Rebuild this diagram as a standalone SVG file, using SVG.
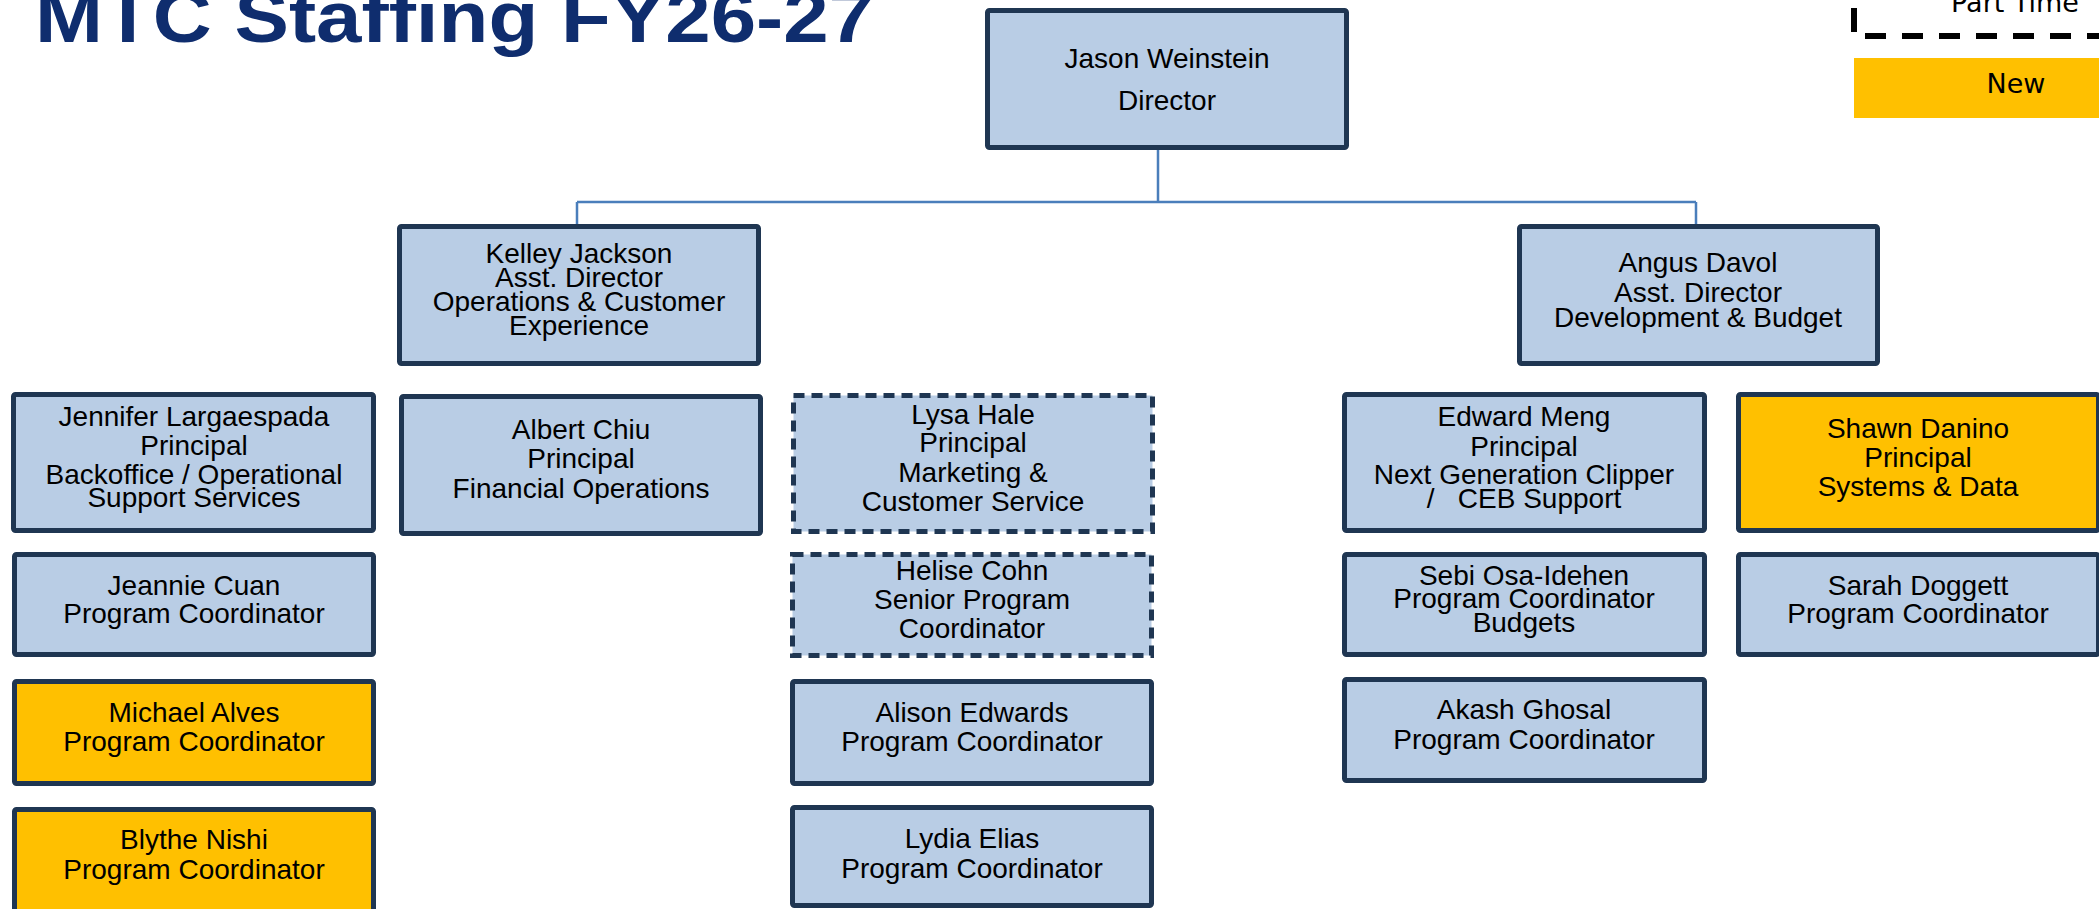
<svg xmlns="http://www.w3.org/2000/svg" width="2099" height="909" viewBox="0 0 2099 909">
<style>
.box{fill:#B9CDE5;stroke:#1F3652;stroke-width:5}
.new{fill:#FFC000;stroke:#1F3652;stroke-width:5}
.pt{fill:#B9CDE5;stroke:#1F3652;stroke-width:5;stroke-dasharray:11 7}
.t{font-family:"Liberation Sans",Arial,sans-serif;font-size:28px;fill:#000;text-anchor:middle;white-space:pre}
.lg{font-family:"DejaVu Sans",sans-serif;font-size:27px;fill:#000;text-anchor:middle}
.conn{fill:none;stroke:#4A7EBB;stroke-width:2.5}
</style>
<rect x="0" y="0" width="2099" height="909" fill="#FFFFFF"/>
<g id="title">
<text x="35" y="42" font-family="Liberation Sans,Arial,sans-serif" font-weight="bold" font-size="72" fill="#0F2D6E" textLength="839" lengthAdjust="spacingAndGlyphs">MTC Staffing FY26-27</text>
</g>
<g id="legend">
<line x1="1854" y1="8" x2="1854" y2="32" stroke="#000" stroke-width="6"/>
<line x1="1865" y1="36" x2="2099" y2="36" stroke="#000" stroke-width="6" stroke-dasharray="21 16"/>
<text class="lg" x="2015" y="12">Part Time</text>
<rect x="1854" y="58" width="260" height="60" fill="#FFC000"/>
<text class="lg" x="2016" y="93">New</text>
</g>
<g id="connectors">
<path class="conn" d="M1158,150 V202 M577,202 H1696 M577,202 V224 M1696,202 V224"/>
</g>
<g id="director">
<rect class="box" x="987.5" y="10.5" width="359" height="137" rx="2"/>
<text class="t" x="1167" y="68">Jason Weinstein</text>
<text class="t" x="1167" y="110">Director</text>
</g>
<g id="kelley">
<rect class="box" x="399.5" y="226.5" width="359" height="137" rx="2"/>
<text class="t" x="579" y="263">Kelley Jackson</text>
<text class="t" x="579" y="287">Asst. Director</text>
<text class="t" x="579" y="311">Operations &amp; Customer</text>
<text class="t" x="579" y="335">Experience</text>
</g>
<g id="angus">
<rect class="box" x="1519.5" y="226.5" width="358" height="137" rx="2"/>
<text class="t" x="1698" y="272">Angus Davol</text>
<text class="t" x="1698" y="302">Asst. Director</text>
<text class="t" x="1698" y="327">Development &amp; Budget</text>
</g>
<g id="jennifer">
<rect class="box" x="13.5" y="394.5" width="360" height="136" rx="2"/>
<text class="t" x="194" y="426">Jennifer Largaespada</text>
<text class="t" x="194" y="455">Principal</text>
<text class="t" x="194" y="484">Backoffice / Operational</text>
<text class="t" x="194" y="507">Support Services</text>
</g>
<g id="albert">
<rect class="box" x="401.5" y="396.5" width="359" height="137" rx="2"/>
<text class="t" x="581" y="439">Albert Chiu</text>
<text class="t" x="581" y="468">Principal</text>
<text class="t" x="581" y="498">Financial Operations</text>
</g>
<g id="lysa">
<rect class="pt" x="793.5" y="395.5" width="359" height="136"/>
<text class="t" x="973" y="424">Lysa Hale</text>
<text class="t" x="973" y="452">Principal</text>
<text class="t" x="973" y="482">Marketing &amp;</text>
<text class="t" x="973" y="511">Customer Service</text>
</g>
<g id="edward">
<rect class="box" x="1344.5" y="394.5" width="360" height="136" rx="2"/>
<text class="t" x="1524" y="426">Edward Meng</text>
<text class="t" x="1524" y="456">Principal</text>
<text class="t" x="1524" y="484">Next Generation Clipper</text>
<text class="t" x="1524" y="508">/   CEB Support</text>
</g>
<g id="shawn">
<rect class="new" x="1738.5" y="394.5" width="360" height="136" rx="2"/>
<text class="t" x="1918" y="438">Shawn Danino</text>
<text class="t" x="1918" y="467">Principal</text>
<text class="t" x="1918" y="496">Systems &amp; Data</text>
</g>
<g id="jeannie">
<rect class="box" x="14.5" y="554.5" width="359" height="100" rx="2"/>
<text class="t" x="194" y="595">Jeannie Cuan</text>
<text class="t" x="194" y="623">Program Coordinator</text>
</g>
<g id="helise">
<rect class="pt" x="792.5" y="554.5" width="359" height="101"/>
<text class="t" x="972" y="580">Helise Cohn</text>
<text class="t" x="972" y="609">Senior Program</text>
<text class="t" x="972" y="638">Coordinator</text>
</g>
<g id="sebi">
<rect class="box" x="1344.5" y="554.5" width="360" height="100" rx="2"/>
<text class="t" x="1524" y="585">Sebi Osa-Idehen</text>
<text class="t" x="1524" y="608">Program Coordinator</text>
<text class="t" x="1524" y="632">Budgets</text>
</g>
<g id="sarah">
<rect class="box" x="1738.5" y="554.5" width="360" height="100" rx="2"/>
<text class="t" x="1918" y="595">Sarah Doggett</text>
<text class="t" x="1918" y="623">Program Coordinator</text>
</g>
<g id="michael">
<rect class="new" x="14.5" y="681.5" width="359" height="102" rx="2"/>
<text class="t" x="194" y="722">Michael Alves</text>
<text class="t" x="194" y="751">Program Coordinator</text>
</g>
<g id="alison">
<rect class="box" x="792.5" y="681.5" width="359" height="102" rx="2"/>
<text class="t" x="972" y="722">Alison Edwards</text>
<text class="t" x="972" y="751">Program Coordinator</text>
</g>
<g id="akash">
<rect class="box" x="1344.5" y="679.5" width="360" height="101" rx="2"/>
<text class="t" x="1524" y="719">Akash Ghosal</text>
<text class="t" x="1524" y="749">Program Coordinator</text>
</g>
<g id="blythe">
<rect class="new" x="14.5" y="809.5" width="359" height="120" rx="2"/>
<text class="t" x="194" y="849">Blythe Nishi</text>
<text class="t" x="194" y="879">Program Coordinator</text>
</g>
<g id="lydia">
<rect class="box" x="792.5" y="807.5" width="359" height="98" rx="2"/>
<text class="t" x="972" y="848">Lydia Elias</text>
<text class="t" x="972" y="878">Program Coordinator</text>
</g>
</svg>
